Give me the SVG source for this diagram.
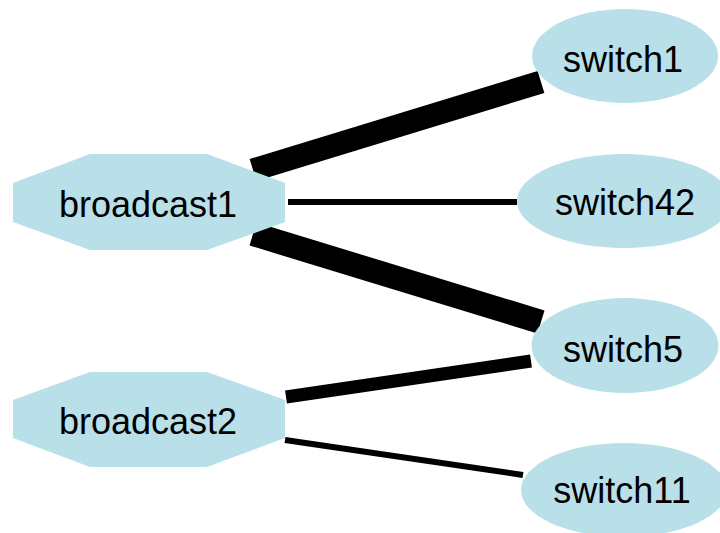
<svg xmlns="http://www.w3.org/2000/svg" width="720" height="533" viewBox="0 0 720 533">
<style>
.node{fill:#b9dfe9;stroke:none}
.lbl{font-family:"Liberation Sans",Arial,sans-serif;font-size:36px;fill:#000;text-anchor:middle}
.edge{stroke:#000;fill:none;stroke-linecap:butt}
</style>
<rect width="720" height="533" fill="#fff"/>
<g id="edges">
<line class="edge" x1="253" y1="170" x2="541" y2="82" stroke-width="23"/>
<line class="edge" x1="288" y1="202" x2="517" y2="202" stroke-width="6"/>
<line class="edge" x1="253" y1="234" x2="541" y2="322" stroke-width="24"/>
<line class="edge" x1="286" y1="397" x2="531" y2="361" stroke-width="13"/>
<line class="edge" x1="285" y1="440" x2="523" y2="475" stroke-width="6"/>
</g>
<g id="broadcast1">
<polygon class="node" points="90,154 207,154 285,183 285,222 207,250 90,250 13,222 13,183"/>
<text class="lbl" x="148" y="217">broadcast1</text>
</g>
<g id="broadcast2">
<polygon class="node" points="90,372 207,372 285,400 285,438 207,467 90,467 13,438 13,400"/>
<text class="lbl" x="148" y="434">broadcast2</text>
</g>
<g id="switch1">
<ellipse class="node" cx="625" cy="56" rx="93" ry="47"/>
<text class="lbl" x="623" y="72">switch1</text>
</g>
<g id="switch42">
<ellipse class="node" cx="624" cy="201" rx="107" ry="47"/>
<text class="lbl" x="625" y="215">switch42</text>
</g>
<g id="switch5">
<ellipse class="node" cx="625" cy="345.5" rx="93.5" ry="47.5"/>
<text class="lbl" x="623" y="362">switch5</text>
</g>
<g id="switch11">
<ellipse class="node" cx="624" cy="490" rx="103" ry="47"/>
<text class="lbl" x="622" y="503">switch11</text>
</g>
</svg>
